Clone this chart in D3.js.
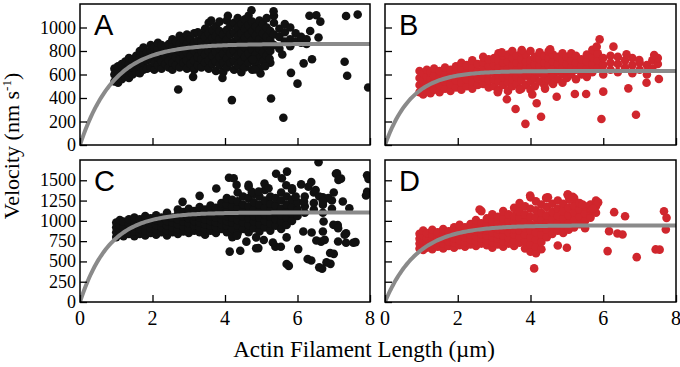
<!DOCTYPE html>
<html>
<head>
<meta charset="utf-8">
<script src="https://cdn.jsdelivr.net/npm/d3@7"></script>
<style>
  body { margin: 0; background: #fff; }
  svg { display: block; }
</style>
</head>
<body>
<div id="container"></div>
<script>
/* CONSTANTS AND GLOBALS */
const width = 680, height = 367

// DATA
const panelNames = ["A", "B", "C", "D"]
const xTicks = [0, 2, 4, 6, 8]
const yTicksTop = [0, 200, 400, 600, 800, 1000]
const yTicksBottom = [0, 250, 500, 750, 1000, 1250, 1500]
// fit curves: v = vmax * (1 - exp(-L / k))
const fitVmax = [860, 630, 1103, 944]
const fitK = [0.92, 0.72, 0.8, 0.88]

// dense clouds, each row: length, then the velocities seen at that length
const cloudA = [
  [0.95,540,600,650],[1.05,530,580,630,670],[1.15,560,620,690],[1.25,580,640,710],
  [1.35,570,630,690,740],[1.45,600,660,730],[1.55,620,690,760],[1.65,610,670,740,800],
  [1.75,640,700,770,830],[1.85,650,720,790],[1.95,660,730,800,850],[2.05,640,700,770,830],
  [2.15,680,750,820,870],[2.25,650,710,780,850],[2.35,690,760,830],[2.45,660,720,790,860],
  [2.55,640,700,770,840,900],[2.65,680,750,820,880],[2.75,660,730,800,860,930],[2.85,700,770,840,900],
  [2.95,650,720,790,860,940],[3.05,690,760,830,900],[3.15,640,720,800,870,950],[3.25,680,750,820,890,960],
  [3.35,660,730,800,880,940],[3.45,700,770,850,920,990],[3.55,650,720,800,870,950,1040],[3.65,690,760,840,910,980],
  [3.75,630,710,790,860,930,1010],[3.85,680,750,820,900,970,1050],[3.95,620,700,780,860,940],
  [4.05,660,740,820,900,980,1060],[4.15,700,780,860,940,1020],[4.25,640,720,800,880,960,1040],
  [4.35,680,760,840,920,1000,1080],[4.45,620,710,790,870,950,1030],[4.55,660,750,830,910,990,1070],
  [4.65,700,780,860,940,1020,1100],[4.75,640,730,810,890,970,1050],[4.85,690,770,850,930,1010],
  [4.95,650,740,820,900,980,1060],[5.05,710,790,870,950,1030],[5.15,760,840,920,1000,1080],
  [5.25,700,800,890,970],[5.35,850,940,1040,1100],[5.5,820,920,990],[5.65,880,960,1030],
  [5.8,840,900,1000],[5.95,880,950],[6.1,870,920],[6.25,860,900]
]
const strayA = [
  [2.71,472],[4.19,382],[5.27,396],[5.61,232],[5.82,614],[6.0,522],[6.17,695],[6.4,730],
  [7.3,708],[7.37,590],[7.95,490],[7.34,1098],[7.66,1110],[6.33,1100],[6.52,1104],[6.63,1050],
  [6.58,915],[6.35,970],[4.08,1100],[4.73,1147],[5.34,1138],[3.12,580],[3.93,570],[4.98,608],
  [5.11,670],[5.58,770],[5.23,733],[4.83,642],[4.77,727],[3.62,1060]
]

const cloudB = [
  [0.95,450,510,570,630],[1.05,430,490,550,610],[1.15,460,520,580,640],[1.25,440,500,560,620],
  [1.35,470,530,590,650],[1.5,450,510,570,630],[1.65,480,540,600,660],[1.8,460,520,580,640],
  [1.95,490,550,610,670],[2.1,470,530,590,650,700],[2.25,500,560,620,680],[2.4,480,540,600,660,720],
  [2.55,510,570,630,690],[2.7,520,580,640,700,750],[2.85,490,550,610,670,730],
  [3.0,500,560,620,680,740],[3.12,470,540,600,660,720,780],[3.25,510,580,640,700,760],
  [3.38,460,530,590,650,710,770],[3.5,500,560,620,680,740,800],[3.62,520,580,640,700,760],
  [3.75,480,550,610,670,730,790],[3.88,510,590,650,710,770],[4.0,470,540,600,660,720,800],
  [4.12,500,570,630,690,750],[4.25,540,610,670,730,790],[4.38,510,580,640,700,760],
  [4.5,550,620,680,740,800],[4.62,520,590,650,710,770],[4.75,560,630,690,750],
  [4.88,530,600,660,720,780],[5.0,570,630,690,750],[5.12,600,660,720,780],[5.25,560,640,700,760],
  [5.4,600,670,730],[5.55,580,650,710,770],[5.7,620,690,750,810],[5.85,660,720,780],
  [6.0,600,680,740],[6.2,640,700,760],[6.4,620,690,750],[6.6,660,720],[6.8,610,680,740],
  [7.0,640,700],[7.2,600,680],[7.35,650,720],[7.5,690,740]
]
const strayB = [
  [3.59,306],[3.86,180],[4.17,355],[4.29,241],[3.35,389],[4.72,411],[5.22,434],[5.53,434],
  [6.0,454],[5.95,221],[6.9,258],[6.69,482],[7.19,530],[7.53,562],[5.9,899],[6.28,837],
  [6.64,772],[7.4,766],[6.99,723],[3.21,789],[3.76,808],[4.54,814],[5.82,837],
  [3.1,450],[3.7,470],[4.4,480],[4.05,430]
]

const cloudC = [
  [1.0,800,860,920,980],[1.1,830,890,950,1010],[1.2,810,870,930,990],[1.35,840,900,960,1020],
  [1.5,810,870,930,990,1040],[1.65,840,900,960,1020],[1.8,820,880,940,1000,1060],[1.95,850,910,970,1030],
  [2.1,830,890,950,1010,1070],[2.25,860,920,980,1040],[2.4,820,880,940,1000,1060,1100],
  [2.55,860,920,980,1040],[2.7,840,900,960,1020,1080,1140],[2.85,870,930,990,1050,1110],
  [3.0,850,910,970,1030,1090,1150],[3.15,880,940,1000,1060,1120],[3.3,860,920,980,1040,1100,1170],
  [3.45,830,900,960,1020,1080,1140],[3.6,880,940,1000,1060,1120,1190],[3.75,850,920,980,1040,1100,1160],
  [3.9,900,960,1020,1080,1140,1220],[4.05,860,940,1000,1060,1120,1200,1280],
  [4.2,800,900,980,1040,1100,1180,1260],[4.35,850,940,1010,1080,1160,1240,1350],
  [4.5,900,980,1050,1120,1200,1300],[4.65,860,950,1030,1100,1180,1280,1420],
  [4.8,910,990,1060,1140,1230,1330],[4.95,870,960,1040,1120,1200,1300],
  [5.1,920,1000,1080,1160,1250,1380],[5.25,880,970,1050,1130,1210,1300],
  [5.4,940,1020,1100,1190,1280],[5.55,900,990,1070,1150,1250,1350],[5.7,950,1040,1120,1200,1300],
  [5.85,1000,1090,1170,1260,1380],[6.0,1060,1140,1230],[6.2,1100,1180,1300],
  [6.45,1140,1220,1350],[6.7,1100,1200,1290],[6.95,1150,1250]
]
const strayC = [
  [4.13,621],[4.86,662],[4.59,744],[5.07,764],[5.39,682],[5.76,445],[6.38,511],[6.68,409],
  [6.91,470],[7.0,593],[6.65,744],[7.34,731],[7.54,731],[7.34,846],[7.11,948],[7.92,1561],
  [7.92,1357],[7.06,1581],[7.2,1520],[6.58,1722],[6.38,1479],[5.69,1438],[5.41,1581],[5.09,1459],
  [4.74,1357],[4.11,1532],[3.76,1398],[3.3,1308],[2.83,1234],[7.09,1587],[7.13,1505],[7.96,1517],
  [7.89,1312],[5.71,1607],[5.57,1525],[4.24,1525],[4.32,1443],[4.65,1443],[4.93,1361],[5.2,1402],
  [5.85,1400],[5.95,1300],[6.1,1450],[6.3,1420],[6.5,1380],[6.6,1300],[6.85,1280],[7.0,1350],
  [6.18,1238],[6.7,1238],[7.25,1238],[7.43,1156],[6.72,992],[6.99,951],[7.12,910],[7.3,828],
  [7.6,738],[6.16,869],[6.39,857],[6.7,869],[6.52,758],[6.75,766],[7.12,746],[6.9,603],
  [6.8,488],[6.6,427],[6.28,529],[6.02,652],[5.7,468],[4.92,664],[4.42,631],[4.33,816],
  [4.86,796],[5.32,734],[5.54,680],[5.7,796]
]

const cloudD = [
  [0.95,660,720,780,840],[1.05,640,700,760,820,880],[1.15,670,730,790,850],[1.3,650,710,770,830,890],
  [1.45,680,740,800,860],[1.6,660,720,780,840,900],[1.75,690,750,810,870],[1.9,670,730,790,850,920],
  [2.05,700,760,820,880,950],[2.2,680,740,800,860,920],[2.35,710,770,830,890,960],
  [2.5,690,750,810,870,940,1010],[2.65,720,780,840,900,970,1120],[2.8,700,760,820,880,950,1030],
  [2.95,670,740,800,860,930,1000,1080],[3.1,710,780,840,900,970,1050],
  [3.25,680,750,820,890,960,1030,1120],[3.4,720,790,860,930,1000,1080],
  [3.55,690,760,830,900,980,1060,1160],[3.7,730,800,880,960,1040,1120,1220],
  [3.85,660,750,830,910,990,1080,1180],[4.0,620,710,800,880,960,1050,1150,1290],
  [4.15,600,680,770,860,950,1040,1130,1240],[4.3,650,740,830,920,1010,1100,1200],
  [4.45,800,890,980,1070,1170,1280],[4.6,840,930,1020,1110,1210],[4.75,880,970,1060,1150,1250],
  [4.9,850,940,1030,1120,1210],[5.05,890,980,1070,1160,1300],[5.2,920,1010,1100,1190,1280],
  [5.35,960,1050,1140,1220],[5.5,910,1000,1090,1180],[5.65,1040,1130,1200],[5.8,1100,1180,1250]
]
const strayD = [
  [4.1,414],[3.99,1311],[4.43,1283],[5.02,1324],[5.07,1262],[5.43,1201],[5.69,1139],[5.84,1221],
  [6.3,1107],[6.6,1057],[7.67,1119],[7.74,1037],[7.72,893],[7.44,648],[6.92,553],[6.12,627],
  [5.0,668],[4.75,697],[6.16,873],[6.39,844],[6.53,832],[2.6,1139],[5.86,1228],[5.72,1150],
  [5.03,1323],[5.16,1298],[4.48,1290],[7.55,645]
]

const clouds = [cloudA, cloudB, cloudC, cloudD]
const strays = [strayA, strayB, strayC, strayD]

/* LAYOUT */
const cols = [[80, 370], [385, 676]]
const rows = [[4, 145], [160, 302]]
const yMax = [1200, 1750]
const dotColor = ["#111111", "#d0262d", "#111111", "#d0262d"]
const serif = "'Liberation Serif', 'Times New Roman', serif"
const sans = "'Liberation Sans', Arial, Helvetica, sans-serif"

const svg = d3.select("#container")
  .append("svg")
  .attr("width", width)
  .attr("height", height)
  .style("background-color", "#fff")

panelNames.forEach((name, i) => {
  const col = i % 2, row = Math.floor(i / 2)
  const [x0, x1] = cols[col]
  const [y0, y1] = rows[row]

  // SCALES
  const xScale = d3.scaleLinear().domain([0, 8]).range([x0, x1])
  const yScale = d3.scaleLinear().domain([0, yMax[row]]).range([y1, y0])
  const yTicks = row === 0 ? yTicksTop : yTicksBottom

  const g = svg.append("g").attr("class", "panel-" + name)

  svg.append("clipPath").attr("id", "clip" + name)
    .append("rect")
    .attr("x", x0).attr("y", y0)
    .attr("width", x1 - x0).attr("height", y1 - y0)

  // POINTS
  const pts = []
  clouds[i].forEach(r => r.slice(1).forEach(v => pts.push([r[0], v])))
  strays[i].forEach(p => pts.push(p))

  g.append("g")
    .attr("clip-path", `url(#clip${name})`)
    .selectAll("circle")
    .data(pts)
    .join("circle")
    .attr("cx", d => xScale(d[0]))
    .attr("cy", d => yScale(d[1]))
    .attr("r", 4.3)
    .attr("fill", dotColor[i])

  // FIT CURVE
  const lineGen = d3.line()
    .x(d => xScale(d))
    .y(d => yScale(fitVmax[i] * (1 - Math.exp(-d / fitK[i]))))

  g.append("path")
    .datum(d3.range(0, 8.001, 0.05))
    .attr("d", lineGen)
    .attr("fill", "none")
    .attr("stroke", "#8a8a8a")
    .attr("stroke-width", 4)
    .attr("clip-path", `url(#clip${name})`)

  // AXES (ticks pointing inward)
  const xAxis = d3.axisTop(xScale).tickValues(xTicks).tickSize(7).tickFormat("")
  g.append("g")
    .attr("transform", `translate(0, ${y1})`)
    .call(xAxis)
    .call(a => a.select(".domain").remove())
    .call(a => a.selectAll("line").attr("stroke", "#000").attr("stroke-width", 1.3))

  const yAxis = d3.axisRight(yScale).tickValues(yTicks).tickSize(7).tickFormat("")
  g.append("g")
    .attr("transform", `translate(${x0}, 0)`)
    .call(yAxis)
    .call(a => a.select(".domain").remove())
    .call(a => a.selectAll("line").attr("stroke", "#000").attr("stroke-width", 1.3))

  // tick labels
  if (col === 0) {
    g.selectAll(".ylab")
      .data(yTicks)
      .join("text")
      .attr("class", "ylab")
      .attr("x", x0 - 4)
      .attr("y", d => yScale(d) + 6)
      .attr("text-anchor", "end")
      .style("font-family", serif)
      .style("font-size", "18px")
      .text(d => d)
  }
  if (row === 1) {
    g.selectAll(".xlab")
      .data(xTicks)
      .join("text")
      .attr("class", "xlab")
      .attr("x", d => xScale(d))
      .attr("y", y1 + 23)
      .attr("text-anchor", "middle")
      .style("font-family", serif)
      .style("font-size", "20px")
      .text(d => d)
  }

  // frame
  g.append("rect")
    .attr("x", x0).attr("y", y0)
    .attr("width", x1 - x0).attr("height", y1 - y0)
    .attr("fill", "none")
    .attr("stroke", "#000")
    .attr("stroke-width", 1.5)

  // panel letter
  g.append("text")
    .attr("x", x0 + 14)
    .attr("y", y0 + 31)
    .style("font-family", sans)
    .style("font-size", "29px")
    .text(name)
})

// AXES LABELS
svg.append("text")
  .attr("text-anchor", "middle")
  .attr("x", 364)
  .attr("y", 357)
  .style("font-family", serif)
  .style("font-size", "23px")
  .text("Actin Filament Length (µm)")

const yLabel = svg.append("text")
  .attr("text-anchor", "middle")
  .attr("transform", "translate(19, 146) rotate(-90)")
  .style("font-family", serif)
  .style("font-size", "22px")
yLabel.append("tspan").text("Velocity (nm s")
yLabel.append("tspan").attr("dy", -8).style("font-size", "13px").text("-1")
yLabel.append("tspan").attr("dy", 8).text(")")
</script>
</body>
</html>
